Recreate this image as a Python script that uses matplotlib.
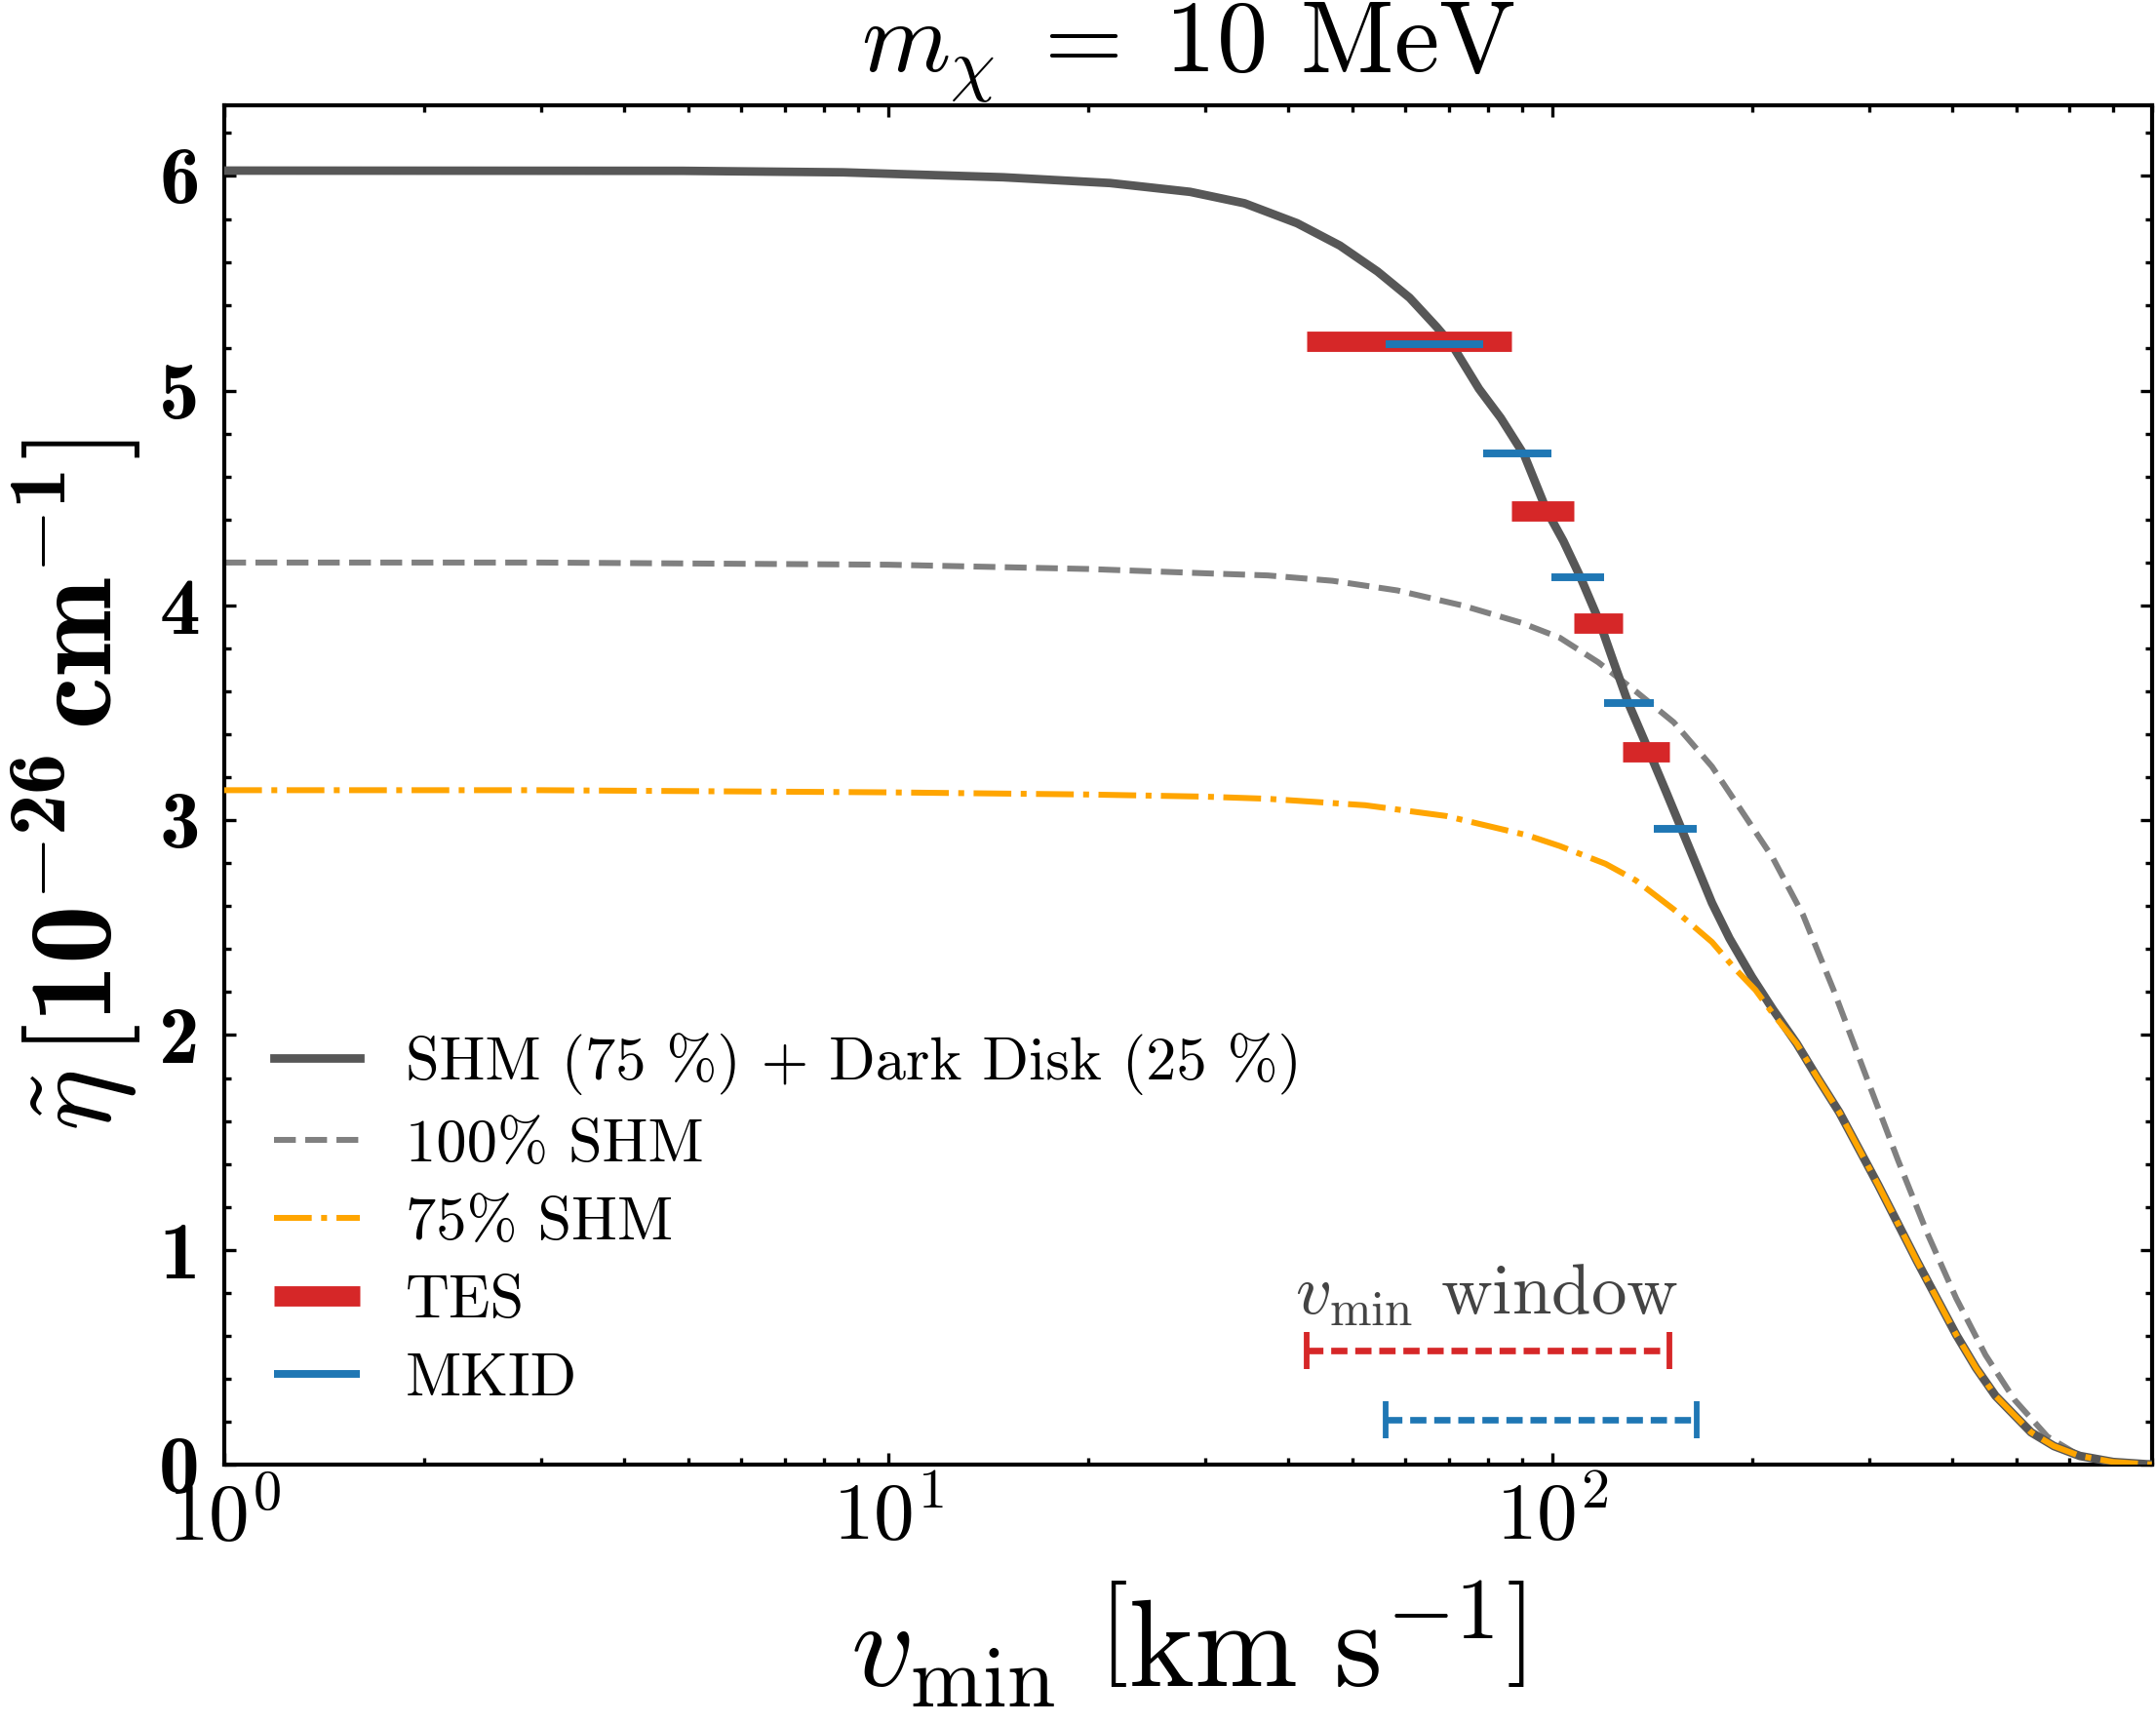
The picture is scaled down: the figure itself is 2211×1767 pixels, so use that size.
import matplotlib
matplotlib.use("Agg")
import matplotlib.pyplot as plt
from matplotlib.ticker import FixedLocator, FixedFormatter, LogLocator, MultipleLocator, NullFormatter

plt.rcParams['font.family'] = 'serif'
plt.rcParams['font.serif'] = ['cmr10']
plt.rcParams['mathtext.fontset'] = 'cm'
# "custom" math set, only used for the bold y label
plt.rcParams['mathtext.rm'] = 'cmr10'
plt.rcParams['mathtext.it'] = 'cmmi10'
plt.rcParams['mathtext.bf'] = 'cmb10'
plt.rcParams['mathtext.sf'] = 'cmss10'
plt.rcParams['mathtext.tt'] = 'cmtt10'
plt.rcParams['mathtext.cal'] = 'cmsy10'
plt.rcParams['axes.formatter.use_mathtext'] = True
plt.rcParams['axes.unicode_minus'] = False

# --- data ---
# SHM (75 %) + dark disk (25 %)
v_mix = [1, 4.9, 8.55, 14.9, 21.6, 28.5, 34.4, 41.3, 47.9, 54.6, 61.0, 67.0,
         70.8, 77.6, 83.7, 90.8, 98.2, 104, 110.4, 118, 124, 130.2, 140, 148.6,
         156.6, 165, 174.1, 185, 200, 215, 233.6, 250, 270.8, 310.1, 354.8, 406,
         435, 465.4, 526.6, 570, 623.7, 700, 800]
eta_mix = [6.025, 6.024, 6.017, 5.994, 5.967, 5.926, 5.873, 5.78, 5.676, 5.555,
           5.433, 5.297, 5.21, 5.009, 4.873, 4.70, 4.44, 4.30, 4.13, 3.92, 3.73,
           3.547, 3.32, 3.13, 2.96, 2.79, 2.615, 2.45, 2.27, 2.12, 1.96, 1.81,
           1.64, 1.30, 0.945, 0.605, 0.45, 0.32, 0.15, 0.086, 0.04, 0.012, 0.0]

# 100% SHM
v_shm = [1, 3, 10, 20, 30, 37.3, 46.7, 58.5, 73.3, 89.8, 102.7, 117.3, 133.7,
         152.5, 174.1, 193.3, 214.8, 238.7, 265.4, 299.9, 332, 367.4, 406, 449.6,
         497.6, 557.4, 623.7, 700, 800]
eta_shm = [4.20, 4.20, 4.19, 4.17, 4.15, 4.14, 4.115, 4.07, 4.00, 3.92, 3.85,
           3.736, 3.60, 3.456, 3.25, 3.04, 2.827, 2.56, 2.21, 1.775, 1.416, 1.077,
           0.775, 0.51, 0.30, 0.13, 0.04, 0.012, 0.005]

# 75% SHM
v_shm75 = [1, 3, 10, 20, 30, 37.3, 52.3, 69.2, 91.8, 102.7, 120.4, 133.7, 152.5,
           174.1, 188.4, 202.4, 215, 233.6, 250, 270.8, 310.1, 354.8, 406, 435,
           465.4, 526.6, 570, 623.7, 700, 800]
eta_shm75 = [3.14, 3.14, 3.13, 3.12, 3.11, 3.10, 3.07, 3.02, 2.93, 2.88, 2.797,
             2.72, 2.585, 2.433, 2.31, 2.21, 2.10, 1.96, 1.81, 1.64, 1.30, 0.945,
             0.605, 0.45, 0.32, 0.15, 0.086, 0.04, 0.012, 0.0]

# binned eta from the two detectors
tes_lo = [42.7, 86.8, 107.7, 127.8]
tes_hi = [86.8, 107.7, 127.8, 150.4]
tes_eta = [5.23, 4.44, 3.92, 3.32]
mkid_lo = [56.2, 78.8, 99.7, 119.8, 142.1]
mkid_hi = [78.8, 99.7, 119.8, 142.1, 165.4]
mkid_eta = [5.215, 4.71, 4.13, 3.545, 2.96]

# v_min windows
tes_window = [42.7, 150.4]
mkid_window = [56.2, 165.4]
tes_window_y = 0.53
mkid_window_y = 0.21

c_mix = '#575757'
c_shm = '#808080'
c_75 = '#FFA500'
c_tes = '#D62728'
c_mkid = '#1F77B4'

fig = plt.figure(figsize=(2211 / 300, 1767 / 300), dpi=300)
ax = fig.add_axes([0.104, 0.150, 0.894, 0.789])

ax.plot(v_mix, eta_mix, color=c_mix, lw=2.1, zorder=3,
        label='SHM (75 %) + Dark Disk (25 %)')
ax.plot(v_shm, eta_shm, color=c_shm, lw=1.45, ls='--', zorder=2, label='100% SHM')
ax.plot(v_shm75, eta_shm75, color=c_75, lw=1.45, ls='-.', zorder=4, label='75% SHM')
ax.hlines(tes_eta, tes_lo, tes_hi, color=c_tes, lw=5, zorder=5, label='TES')
ax.hlines(mkid_eta, mkid_lo, mkid_hi, color=c_mkid, lw=1.9, zorder=6, label='MKID')

# window brackets
for win, yy, col in [(tes_window, tes_window_y, c_tes),
                     (mkid_window, mkid_window_y, c_mkid)]:
    mid = (win[0] * win[1]) ** 0.5
    eb = ax.errorbar([mid], [yy], xerr=[[mid - win[0]], [win[1] - mid]],
                     fmt='none', ecolor=col, elinewidth=1.6, capsize=4.5,
                     capthick=1.4, zorder=5)
    eb[2][0].set_linestyle((0, (2.5, 1.2)))

ax.text(41, 0.70, r'$v_{\rm min}$ window', fontsize=17.5, color='#444444',
        va='baseline', ha='left')

ax.set_xscale('log')
ax.set_xlim(1, 800)
ax.set_ylim(0, 6.33)

ax.xaxis.set_major_locator(FixedLocator([1, 10, 100]))
ax.xaxis.set_major_formatter(FixedFormatter([r'$10^{0}$', r'$10^{1}$', r'$10^{2}$']))
ax.xaxis.set_minor_locator(LogLocator(base=10, subs=range(2, 10), numticks=20))
ax.xaxis.set_minor_formatter(NullFormatter())
ax.yaxis.set_major_locator(FixedLocator([0, 1, 2, 3, 4, 5, 6]))
ax.yaxis.set_major_formatter(FixedFormatter([str(i) for i in range(7)]))
ax.yaxis.set_minor_locator(MultipleLocator(0.2))

ax.tick_params(which='both', direction='in', top=True, right=True, width=0.8)
ax.tick_params(which='major', length=2.8)
ax.tick_params(which='minor', length=1.6)
ax.tick_params(axis='x', labelsize=20, pad=4)
ax.tick_params(axis='y', labelsize=20, pad=6)
for lab in ax.get_yticklabels():
    lab.set_fontfamily('cmb10')
for s in ax.spines.values():
    s.set_linewidth(1.0)

ax.set_xlabel(r'$v_{\rm min}\ \left[\mathrm{km\ s}^{-1}\right]$', fontsize=30.5, labelpad=6)
ax.set_ylabel(r'$\tilde{\eta}\,[\mathbf{10}^{-\mathbf{26}}\,\mathbf{cm}^{-\mathbf{1}}]$',
              fontsize=29, labelpad=4, math_fontfamily='custom')
ax.set_title(r'$m_\chi\;=\;10$ MeV', fontsize=25, pad=2)

ax.legend(loc='center left', bbox_to_anchor=(0.026, 0.18), frameon=False,
          fontsize=15, handlelength=1.4, handletextpad=0.75, labelspacing=0.39,
          borderpad=0, borderaxespad=0)

fig.savefig('out.png', dpi=300)
